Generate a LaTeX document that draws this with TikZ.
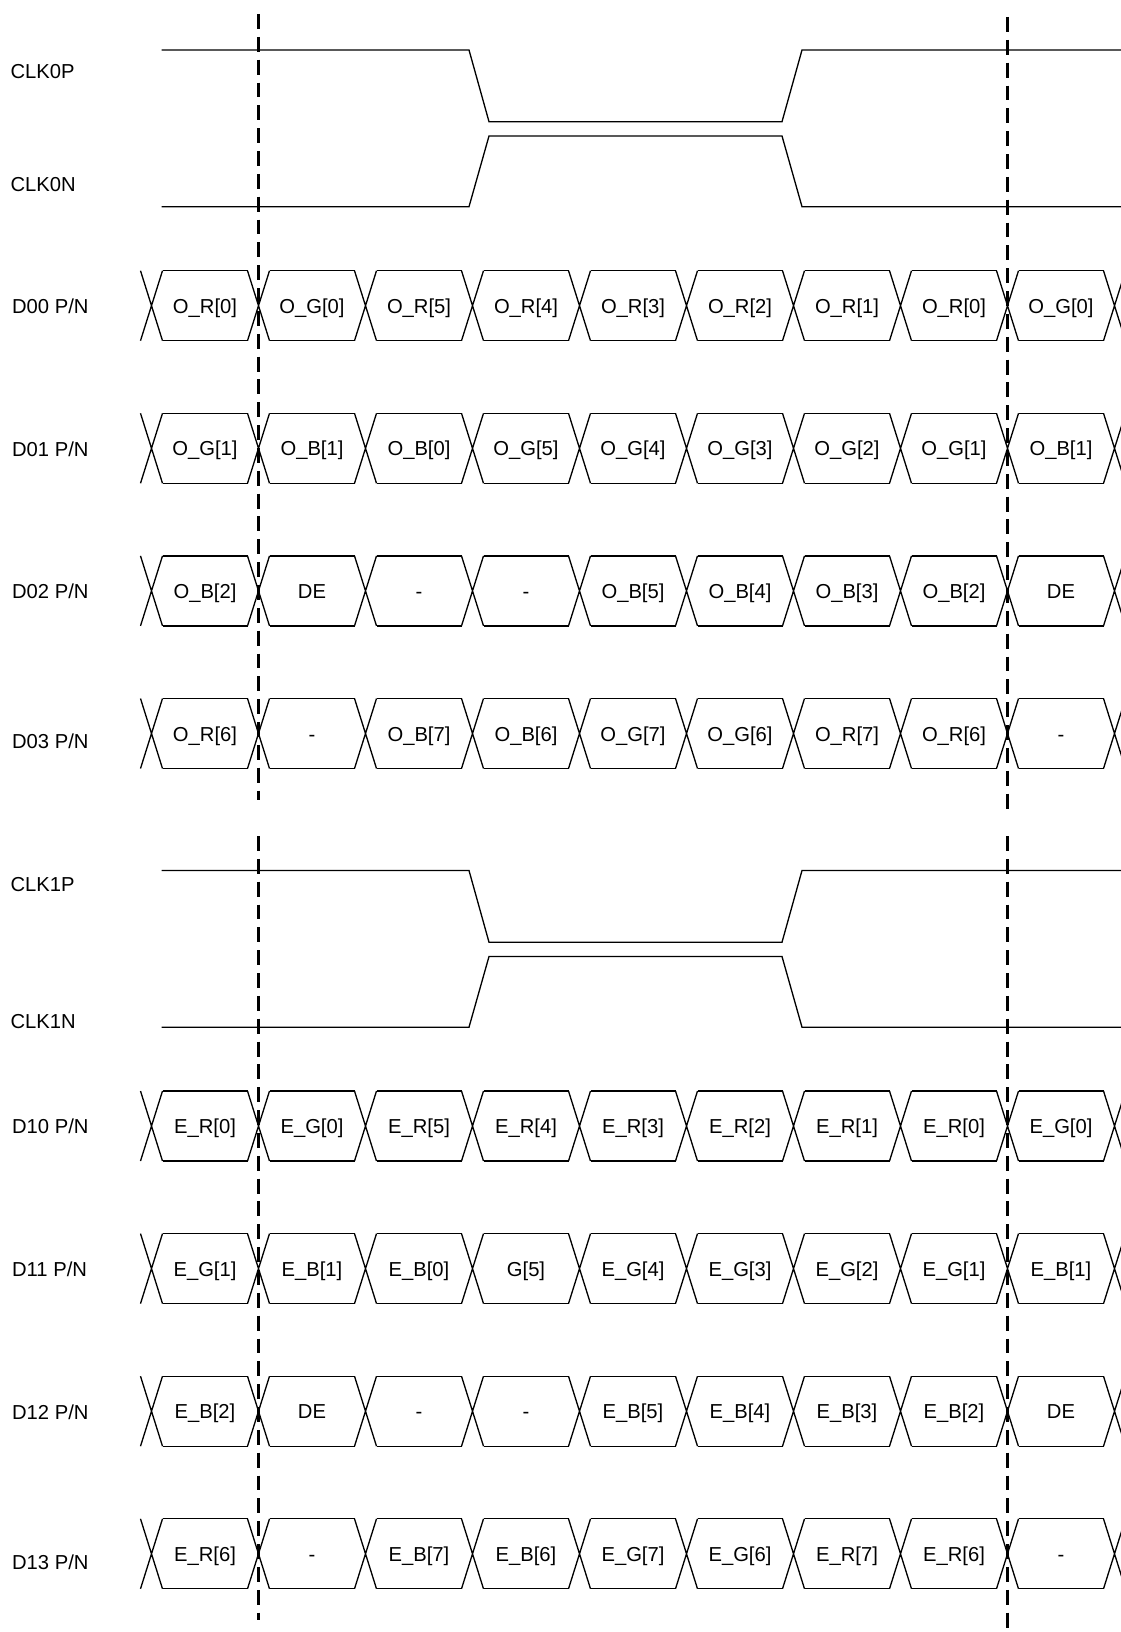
\documentclass[tikz,border=0pt]{standalone}
\usepackage{fontspec}
\setmainfont{Liberation Sans}
\usepackage{tikz}

\begin{document}
\begin{tikzpicture}[x=0.02cm, y=-0.02cm, line width=0.75pt,
    font=\fontsize{11.5}{13}\selectfont,
    lab/.style={anchor=base west, inner sep=0pt},
    cell/.style={anchor=base, inner sep=0pt},
    cut/.style={line width=1.4pt, dash pattern=on 8.5pt off 4.5pt}]
      \useasboundingbox (0,0) rectangle (1121,1632);
      \clip (0,0) rectangle (1121,1632);

      % clock pairs, second one shifted down
      \foreach \dy in {0, 820.5} {
        \draw (161.7,50+\dy) -- (469,50+\dy) -- (489,121.7+\dy) -- (782,121.7+\dy) -- (802,50+\dy) -- (1121,50+\dy);
        \draw (161.7,206.7+\dy) -- (469,206.7+\dy) -- (489,136+\dy) -- (782,136+\dy) -- (802,206.7+\dy) -- (1121,206.7+\dy);
      }

      \node[lab] (clk0p) at (10,78.5) {CLK0P};
      \node[lab] (clk0n) at (10,192) {CLK0N};
      \node[lab] (d00) at (11.5,313.5) {D00 P/N};
      \node[lab] (d01) at (11.5,456) {D01 P/N};
      \node[lab] (d02) at (11.5,598.5) {D02 P/N};
      \node[lab] (d03) at (11.5,748.5) {D03 P/N};
      \node[lab] (clk1p) at (10,891) {CLK1P};
      \node[lab] (clk1n) at (10,1028.5) {CLK1N};
      \node[lab] (d10) at (11.5,1133.5) {D10 P/N};
      \node[lab] (d11) at (11.5,1276.5) {D11 P/N};
      \node[lab] (d12) at (11.5,1419.5) {D12 P/N};
      \node[lab] (d13) at (11.5,1569.5) {D13 P/N};

      % data lanes
      \foreach \yc/\r/\cells in {
          305.7/a/{O\_R[0],O\_G[0],O\_R[5],O\_R[4],O\_R[3],O\_R[2],O\_R[1],O\_R[0],O\_G[0]},
          448.3/b/{O\_G[1],O\_B[1],O\_B[0],O\_G[5],O\_G[4],O\_G[3],O\_G[2],O\_G[1],O\_B[1]},
          590.9/c/{O\_B[2],DE,-,-,O\_B[5],O\_B[4],O\_B[3],O\_B[2],DE},
          733.5/d/{O\_R[6],-,O\_B[7],O\_B[6],O\_G[7],O\_G[6],O\_R[7],O\_R[6],-},
          1126/e/{E\_R[0],E\_G[0],E\_R[5],E\_R[4],E\_R[3],E\_R[2],E\_R[1],E\_R[0],E\_G[0]},
          1268.6/f/{E\_G[1],E\_B[1],E\_B[0],G[5],E\_G[4],E\_G[3],E\_G[2],E\_G[1],E\_B[1]},
          1411.2/g/{E\_B[2],DE,-,-,E\_B[5],E\_B[4],E\_B[3],E\_B[2],DE},
          1553.8/h/{E\_R[6],-,E\_B[7],E\_B[6],E\_G[7],E\_G[6],E\_R[7],E\_R[6],-}} {
        \foreach \k in {0,...,9} {
          \draw (151.5+107*\k-11,\yc-35) -- (151.5+107*\k+11,\yc+35)
                (151.5+107*\k-11,\yc+35) -- (151.5+107*\k+11,\yc-35);
        }
        \foreach \txt [count=\k from 0] in \cells {
          \draw (151.5+107*\k+11,\yc-35) -- (151.5+107*\k+96,\yc-35)
                (151.5+107*\k+11,\yc+35) -- (151.5+107*\k+96,\yc+35);
          \node[cell] (\r\k) at (151.5+107*\k+53.5,\yc+7.5) {\txt};
        }
      }

      % sampling marks
      \draw[cut] (258.5,14) -- (258.5,800);
      \draw[cut] (258.5,836) -- (258.5,1620);
      \draw[cut] (1007.5,17) -- (1007.5,815);
      \draw[cut] (1007.5,836) -- (1007.5,1632);

    \end{tikzpicture}
\end{document}
